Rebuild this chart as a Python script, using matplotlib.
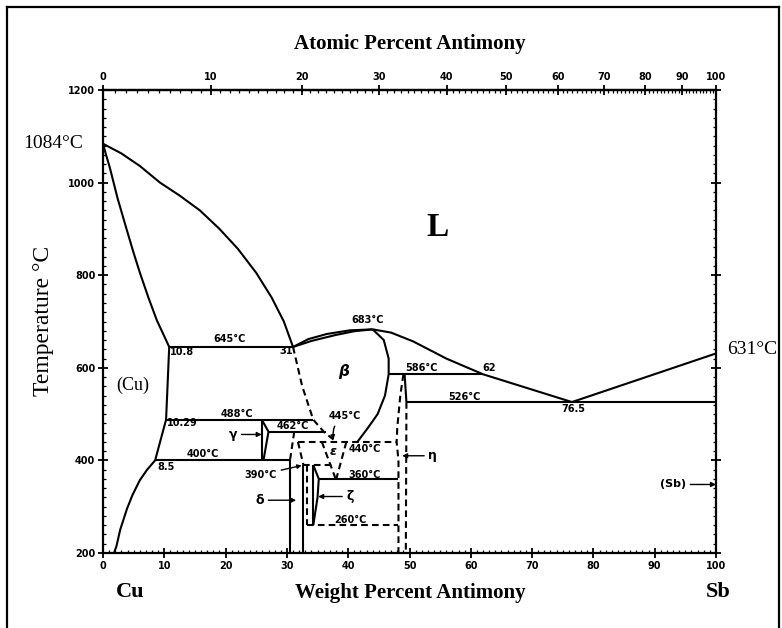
import numpy as np
import matplotlib.pyplot as plt
from matplotlib.ticker import MultipleLocator
from matplotlib.lines import Line2D

# atomic masses used to convert weight % to atomic %
M_SB = 121.76
M_CU = 63.546

# --- phase boundaries (weight % Sb, temperature in degC) ---
liq_cu_wt = [0, 3, 6, 9.3, 12.5, 15.8, 19, 22, 25, 27.5, 29.5, 31]
liq_cu_t = [1084, 1063, 1036, 1000, 972, 940, 900, 857, 805, 752, 700, 645]

sol_cu_wt = [0, 0.5, 1.1, 2.4, 3.9, 5.0, 6.0, 7.4, 8.8, 10.0, 10.8]
sol_cu_t = [1084, 1060, 1033, 965, 897, 848, 806, 752, 702, 668, 645]

solvus_cu_wt = [10.8, 10.29, 8.5, 7.2, 6.0, 4.8, 3.9, 2.8, 2.2, 1.8]
solvus_cu_t = [645, 488, 400, 380, 357, 325, 295, 250, 215, 200]

liq_beta_wt = [31, 33.5, 36.5, 40.3, 44]
liq_beta_t = [645, 662, 673, 681, 683]

sol_beta_wt = [31, 34, 38, 41, 44]
sol_beta_t = [645, 658, 671, 679, 683]

liq_sb_wt = [44, 47, 50.6, 56, 62, 76.5, 100]
liq_sb_t = [683, 676, 657, 620, 586, 526, 631]

beta_right_wt = [44, 45.8, 46.6, 46.6, 46.0, 44.8, 43.2, 41.5]
beta_right_t = [683, 660, 620, 586, 540, 500, 470, 440]

beta_left_wt = [31, 32.5, 34.3, 36.0, 37.6]
beta_left_t = [645, 560, 488, 462, 445]

gamma_wt = [25.9, 27.0, 26.2]
gamma_t = [488, 462, 402]

eps_left_wt = [35.7, 37.9]
eps_left_t = [440, 362]
eps_right_wt = [39.7, 38.1]
eps_right_t = [440, 362]

zeta_wt = [34.3, 35.2, 35.0, 34.3]
zeta_t = [390, 360, 320, 260]

eta_left_wt = [49.0, 48.5, 48.0, 47.9, 48.2, 48.2]
eta_left_t = [586, 540, 470, 440, 400, 200]
eta_right_wt = [49.5, 49.4]
eta_right_t = [526, 200]

# invariant lines: (temperature, start wt%, end wt%)
solid_iso = [(645, 10.8, 31), (488, 10.29, 34.3), (462, 27.0, 36.3),
             (400, 8.5, 30.5), (586, 46.6, 62), (526, 49.5, 100),
             (360, 35.2, 48.2)]
dashed_iso = [(440, 31.8, 47.9), (390, 32.7, 37.8), (260, 33.3, 48.2)]

# vertical boundaries: (wt%, T from, T to)
solid_vert = [(25.9, 488, 400), (30.5, 400, 200), (32.7, 390, 200),
              (34.3, 390, 260)]
dashed_vert = [(33.3, 390, 260)]
dashed_seg = [((31.2, 462), (30.5, 400)), ((31.8, 440), (32.7, 390))]
eta_solid = [(49.2, 586), (49.5, 526)]

# small numeric labels inside the diagram: text, wt%, T, alignment
point_labels = [
    ("683°C", 43.2, 703, "center"), ("645°C", 20.7, 662, "center"),
    ("10.8", 10.9, 634, "left"), ("31", 31.0, 636, "right"),
    ("586°C", 52.0, 600, "center"), ("62", 63.0, 599, "center"),
    ("526°C", 59.0, 538, "center"), ("76.5", 76.7, 511, "center"),
    ("488°C", 21.9, 501, "center"), ("10.29", 10.4, 481, "left"),
    ("462°C", 31.0, 475, "center"), ("440°C", 42.7, 424, "center"),
    ("400°C", 16.3, 414, "center"), ("8.5", 8.8, 386, "left"),
    ("360°C", 42.7, 368, "center"), ("260°C", 40.3, 272, "center"),
]

# phase name arrows: label, label position, arrow tip
phase_arrows = [
    ("γ", (21.2, 456), (25.9, 456)),
    ("δ", (25.6, 314), (31.5, 314)),
    ("ζ", (40.3, 322), (35.1, 322)),
    ("η", (53.8, 410), (48.8, 410)),
    ("(Sb)", (93.0, 348), (100, 348)),
]

at_ticks = np.arange(0, 101, 10)
wt_ticks = np.arange(0, 101, 10)
t_ticks = np.arange(200, 1201, 200)


def wt_to_at(w):
    w = np.asarray(w, float)
    a = w / M_SB
    return 100 * a / (a + (100 - w) / M_CU)


def at_to_wt(a):
    a = np.asarray(a, float)
    return 100 * a * M_SB / (a * M_SB + (100 - a) * M_CU)


fig = plt.figure(figsize=(7.82, 6.28), dpi=100)
ax = fig.add_axes([103 / 782, 1 - 553 / 628, 613 / 782, 463 / 628])
ax.set_xlim(0, 100)
ax.set_ylim(200, 1200)

LW = 1.5
DASH = (0, (3.2, 2.0))
kw = dict(color="black", lw=LW, solid_capstyle="butt", solid_joinstyle="round")

for xs, ys in [(liq_cu_wt, liq_cu_t), (sol_cu_wt, sol_cu_t),
               (solvus_cu_wt, solvus_cu_t), (liq_beta_wt, liq_beta_t),
               (sol_beta_wt, sol_beta_t), (liq_sb_wt, liq_sb_t),
               (beta_right_wt, beta_right_t), (gamma_wt, gamma_t),
               (zeta_wt, zeta_t)]:
    ax.plot(xs, ys, **kw)

for xs, ys in [(beta_left_wt, beta_left_t), (eps_left_wt, eps_left_t),
               (eps_right_wt, eps_right_t), (eta_left_wt, eta_left_t),
               (eta_right_wt, eta_right_t)]:
    ax.plot(xs, ys, ls=DASH, **kw)

for t, x0, x1 in solid_iso:
    ax.plot([x0, x1], [t, t], **kw)
for t, x0, x1 in dashed_iso:
    ax.plot([x0, x1], [t, t], ls=DASH, **kw)
for x, t0, t1 in solid_vert:
    ax.plot([x, x], [t0, t1], **kw)
for x, t0, t1 in dashed_vert:
    ax.plot([x, x], [t0, t1], ls=DASH, **kw)
for (x0, t0), (x1, t1) in dashed_seg:
    ax.plot([x0, x1], [t0, t1], ls=DASH, **kw)
ax.plot([p[0] for p in eta_solid], [p[1] for p in eta_solid], **kw)

small = dict(fontsize=7, fontweight="bold", family="DejaVu Sans")
for txt, x, t, ha in point_labels:
    ax.text(x, t, txt, ha=ha, va="center", **small)

arrow_kw = dict(arrowstyle="-|>", color="black", lw=1.0,
                mutation_scale=7, shrinkA=1, shrinkB=0)
for txt, (lx, lt), (tx, tt) in phase_arrows:
    fs = 8 if txt == "(Sb)" else 9
    ax.annotate(txt, xy=(tx, tt), xytext=(lx, lt), ha="center", va="center",
                fontsize=fs, fontweight="bold", arrowprops=arrow_kw)

ax.annotate("445°C", xy=(37.6, 445), xytext=(39.4, 496), ha="center",
            va="center", fontsize=7, fontweight="bold",
            arrowprops=dict(arrowstyle="-|>", color="black", lw=1.0,
                            mutation_scale=6, shrinkA=2, shrinkB=0,
                            connectionstyle="arc3,rad=0.35"))
ax.annotate("390°C", xy=(32.4, 389), xytext=(28.4, 369), ha="right",
            va="center", fontsize=7, fontweight="bold",
            arrowprops=dict(arrowstyle="-|>", color="black", lw=1.0,
                            mutation_scale=6, shrinkA=1, shrinkB=0))

ax.text(37.6, 420, "ε", ha="center", va="center", fontsize=9,
        fontweight="bold", style="italic")
ax.text(39.2, 591, "β", ha="center", va="center", fontsize=11,
        fontweight="bold", style="italic")

serif = "Liberation Serif"
ax.text(54.5, 902, "L", ha="center", va="center", fontsize=24,
        fontweight="bold", family=serif)
ax.text(4.9, 562, "(Cu)", ha="center", va="center", fontsize=13,
        family=serif)

# axes, ticks
for s in ax.spines.values():
    s.set_linewidth(1.6)
ax.set_xticks(wt_ticks)
ax.set_yticks(t_ticks)
ax.xaxis.set_minor_locator(MultipleLocator(1))
ax.yaxis.set_minor_locator(MultipleLocator(20))
ax.tick_params(which="major", direction="inout", length=7, width=1.3,
               labelsize=7, pad=2)
ax.tick_params(which="minor", direction="in", length=2.5, width=0.9)
ax.tick_params(axis="y", which="both", right=True)
for lab in ax.get_xticklabels() + ax.get_yticklabels():
    lab.set_fontweight("bold")

secax = ax.secondary_xaxis("top", functions=(wt_to_at, at_to_wt))
secax.set_xticks(at_ticks)
secax.xaxis.set_minor_locator(MultipleLocator(1))
secax.tick_params(which="major", direction="inout", length=7, width=1.3,
                  labelsize=7, pad=2)
secax.tick_params(which="minor", direction="in", length=2.5, width=0.9)
secax.spines["top"].set_linewidth(1.6)
for lab in secax.get_xticklabels():
    lab.set_fontweight("bold")


# titles and outer labels in figure pixel coordinates
def fig_text(x, y, s, **k):
    fig.text(x / 782, 1 - y / 628, s, ha="center", va="center",
             family=serif, **k)


fig_text(410, 44, "Atomic Percent Antimony", fontsize=15, fontweight="bold")
fig_text(410, 593, "Weight Percent Antimony", fontsize=15, fontweight="bold")
fig_text(130, 592, "Cu", fontsize=16, fontweight="bold")
fig_text(718, 592, "Sb", fontsize=16, fontweight="bold")
fig_text(53, 143, "1084°C", fontsize=14)
fig_text(752, 349, "631°C", fontsize=14)
fig_text(44, 321, "Temperature °C", fontsize=17, rotation=90)

# frame around the whole figure
frame = dict(color="black", lw=1.6, transform=fig.transFigure)
fig.add_artist(Line2D([7 / 782, 7 / 782], [0, 1 - 7 / 628], **frame))
fig.add_artist(Line2D([7 / 782, 779 / 782], [1 - 7 / 628, 1 - 7 / 628], **frame))
fig.add_artist(Line2D([779 / 782, 779 / 782], [0, 1 - 7 / 628], **frame))

fig.savefig("out.png", dpi=100)
